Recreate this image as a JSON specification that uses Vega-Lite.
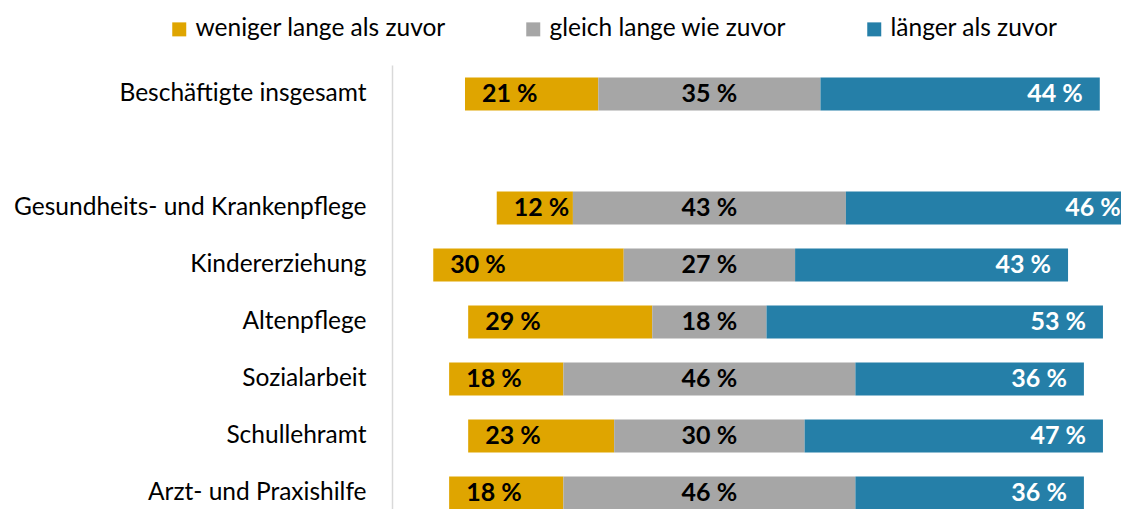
{
  "$schema": "https://vega.github.io/schema/vega-lite/v6.json",
  "autosize": {"type": "none"},
  "padding": {"left": 392, "top": 65, "right": 0, "bottom": 0},
  "width": 730,
  "height": 457,
  "background": "white",
  "config": {
    "view": {"stroke": null},
    "font": "Lato",
    "text": {"font": "Lato"}
  },
  "data": {
    "values": [
      {"cat": "Beschäftigte insgesamt", "resp": "weniger lange als zuvor", "value": 21},
      {"cat": "Beschäftigte insgesamt", "resp": "gleich lange wie zuvor", "value": 35},
      {"cat": "Beschäftigte insgesamt", "resp": "länger als zuvor", "value": 44},
      {"cat": "Gesundheits- und Krankenpflege", "resp": "weniger lange als zuvor", "value": 12},
      {"cat": "Gesundheits- und Krankenpflege", "resp": "gleich lange wie zuvor", "value": 43},
      {"cat": "Gesundheits- und Krankenpflege", "resp": "länger als zuvor", "value": 46},
      {"cat": "Kindererziehung", "resp": "weniger lange als zuvor", "value": 30},
      {"cat": "Kindererziehung", "resp": "gleich lange wie zuvor", "value": 27},
      {"cat": "Kindererziehung", "resp": "länger als zuvor", "value": 43},
      {"cat": "Altenpflege", "resp": "weniger lange als zuvor", "value": 29},
      {"cat": "Altenpflege", "resp": "gleich lange wie zuvor", "value": 18},
      {"cat": "Altenpflege", "resp": "länger als zuvor", "value": 53},
      {"cat": "Sozialarbeit", "resp": "weniger lange als zuvor", "value": 18},
      {"cat": "Sozialarbeit", "resp": "gleich lange wie zuvor", "value": 46},
      {"cat": "Sozialarbeit", "resp": "länger als zuvor", "value": 36},
      {"cat": "Schullehramt", "resp": "weniger lange als zuvor", "value": 23},
      {"cat": "Schullehramt", "resp": "gleich lange wie zuvor", "value": 30},
      {"cat": "Schullehramt", "resp": "länger als zuvor", "value": 47},
      {"cat": "Arzt- und Praxishilfe", "resp": "weniger lange als zuvor", "value": 18},
      {"cat": "Arzt- und Praxishilfe", "resp": "gleich lange wie zuvor", "value": 46},
      {"cat": "Arzt- und Praxishilfe", "resp": "länger als zuvor", "value": 36}
    ]
  },
  "transform": [
    {"calculate": "datum.resp === 'gleich lange wie zuvor' ? datum.value : 0", "as": "gv"},
    {"joinaggregate": [{"op": "sum", "field": "gv", "as": "gray"}], "groupby": ["cat"]},
    {"calculate": "datum.resp === 'weniger lange als zuvor' ? -datum.gray/2 - datum.value : (datum.resp === 'gleich lange wie zuvor' ? -datum.gray/2 : datum.gray/2)", "as": "x0"},
    {"calculate": "datum.x0 + datum.value", "as": "x1"},
    {"calculate": "(datum.x0 + datum.x1)/2", "as": "xm"},
    {"calculate": "datum.value + ' %'", "as": "lbl"}
  ],
  "encoding": {
    "y": {
      "field": "cat",
      "type": "nominal",
      "sort": null,
      "scale": {
        "domain": ["Beschäftigte insgesamt", " ", "Gesundheits- und Krankenpflege", "Kindererziehung", "Altenpflege", "Sozialarbeit", "Schullehramt", "Arzt- und Praxishilfe"],
        "paddingInner": 0.421,
        "paddingOuter": 0.219
      },
      "axis": {
        "title": null,
        "ticks": false,
        "domain": true,
        "domainColor": "#D9D9D9",
        "domainWidth": 1.5,
        "labelFont": "Lato",
        "labelFontSize": 24.5,
        "labelColor": "#000000",
        "labelPadding": 26,
        "labelLimit": 500
      }
    }
  },
  "layer": [
    {
      "mark": {"type": "bar", "clip": true},
      "encoding": {
        "x": {"field": "x0", "type": "quantitative", "scale": {"domain": [-50, 65], "nice": false, "zero": false}, "axis": null},
        "x2": {"field": "x1"},
        "color": {
          "field": "resp",
          "type": "nominal",
          "scale": {
            "domain": ["weniger lange als zuvor", "gleich lange wie zuvor", "länger als zuvor"],
            "range": ["#DFA500", "#A6A6A6", "#257FA8"]
          },
          "legend": {
            "title": null,
            "orient": "none",
            "direction": "horizontal",
            "legendX": -225,
            "legendY": -48,
            "symbolType": "square",
            "symbolSize": 196,
            "symbolStrokeWidth": 0,
            "symbolOpacity": 1,
            "labelFont": "Lato",
            "labelFontSize": 24.5,
            "labelColor": "#000000",
            "labelOffset": 4,
            "columnPadding": 75,
            "labelLimit": 500
          }
        }
      }
    },
    {
      "transform": [{"filter": "datum.resp === 'weniger lange als zuvor'"}],
      "mark": {"type": "text", "align": "left", "dx": 17, "fontWeight": "bold", "fontSize": 25, "color": "#000000", "baseline": "middle"},
      "encoding": {"x": {"field": "x0", "type": "quantitative"}, "text": {"field": "lbl"}}
    },
    {
      "transform": [{"filter": "datum.resp === 'gleich lange wie zuvor'"}],
      "mark": {"type": "text", "align": "center", "fontWeight": "bold", "fontSize": 25, "color": "#000000", "baseline": "middle"},
      "encoding": {"x": {"field": "xm", "type": "quantitative"}, "text": {"field": "lbl"}}
    },
    {
      "transform": [{"filter": "datum.resp === 'länger als zuvor'"}],
      "mark": {"type": "text", "align": "right", "dx": -17, "fontWeight": "bold", "fontSize": 25, "color": "#FFFFFF", "baseline": "middle"},
      "encoding": {"x": {"field": "x1", "type": "quantitative"}, "text": {"field": "lbl"}}
    }
  ]
}
